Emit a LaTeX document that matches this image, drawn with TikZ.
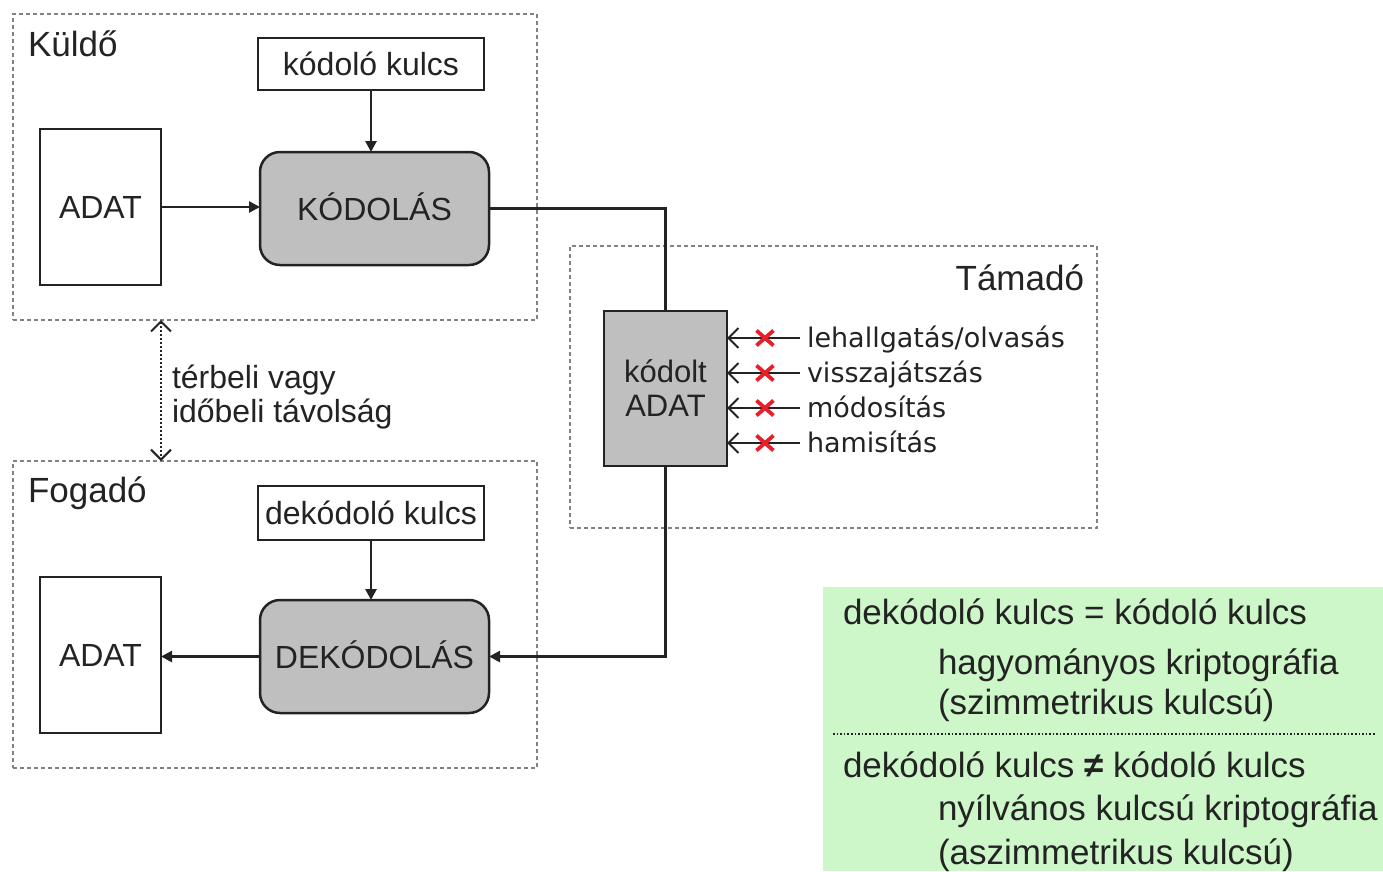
\documentclass[tikz,border=0pt]{standalone}
\usepackage{fontspec}
\setmainfont{Liberation Sans}
\newfontfamily\attfont{DejaVu Sans}
\usetikzlibrary{arrows.meta,shapes.misc}
\definecolor{boxgray}{RGB}{191,191,191}
\definecolor{linecol}{RGB}{35,35,35}
\definecolor{dashcol}{RGB}{130,130,130}
\definecolor{greenbg}{RGB}{205,246,201}
\definecolor{xred}{RGB}{232,30,40}
\begin{document}
\begin{tikzpicture}[x=1pt,y=-1pt,
  every node/.style={inner sep=0pt,outer sep=0pt,text=linecol},
  groupbox/.style={draw=dashcol,line width=1.6pt,dash pattern=on 4pt off 3pt},
  grouplabel/.style={font=\fontsize{35}{40}\selectfont,anchor=base west},
  plainbox/.style={draw=linecol,line width=2.2pt,fill=white,font=\fontsize{32}{36}\selectfont,text height=23pt,text depth=0pt},
  procbox/.style={draw=linecol,line width=2.5pt,fill=boxgray,rounded corners=20pt,font=\fontsize{32}{36}\selectfont,text height=23pt,text depth=0pt},
  graybox/.style={draw=linecol,line width=2.2pt,fill=boxgray,font=\fontsize{31}{36}\selectfont,align=center},
  conn/.style={draw=linecol,line width=2.6pt,-{Triangle[length=11pt,width=11pt]}},
  wire/.style={draw=linecol,line width=2.6pt},
  attack/.style={draw=linecol,line width=1.8pt,-{Straight Barb[length=10pt,width=20pt,line width=2pt]}},
  attlabel/.style={font=\attfont\fontsize{27}{30}\selectfont,anchor=west,text height=19pt,text depth=0pt},
  redx/.style={cross out,draw=xred,line width=3.8pt,minimum width=17pt,minimum height=15pt,fill=none},
  distarrow/.style={draw=linecol,line width=2pt,dotted,{Straight Barb[length=10pt,width=20pt,line width=2pt]}-{Straight Barb[length=10pt,width=20pt,line width=2pt]}},
  bodytext/.style={font=\fontsize{32}{36}\selectfont,anchor=base west,align=left},
  greentext/.style={font=\fontsize{35}{40}\selectfont,anchor=base west}
]
\useasboundingbox (0,0) rectangle (1383,871);

% Sender group
\node[groupbox,minimum width=524,minimum height=306] (kuldo) at (275,167) {};
\node[grouplabel] (kuldolbl) at (28,56) {Küldő};
\node[plainbox,minimum width=226,minimum height=52] (kkey) at (371,64) {kódoló kulcs};
\node[plainbox,minimum width=121,minimum height=156] (adat1) at (100.5,207) {ADAT};
\node[procbox,minimum width=229,minimum height=113] (kod) at (374.5,208.5) {KÓDOLÁS};
\draw[conn] (adat1.east) -- (kod.west |- adat1.east);
\draw[conn] (kkey.south) -- (kkey.south |- kod.north);

% Attacker group
\node[groupbox,minimum width=527,minimum height=282] (tamado) at (833.5,387) {};
\node[font=\fontsize{35}{40}\selectfont,anchor=base east] (tamadolbl) at (1084,290) {Támadó};
\node[graybox,minimum width=123,minimum height=155] (kodolt) at (665.5,388.5) {kódolt\\[-2pt]ADAT};
\node[attlabel] (a1) at (807,338) {lehallgatás/olvasás};
\node[attlabel] (a2) at (807,373) {visszajátszás};
\node[attlabel] (a3) at (807,408) {módosítás};
\node[attlabel] (a4) at (807,443) {hamisítás};
\foreach \a in {a1,a2,a3,a4}{
  \draw[attack] ([xshift=-7pt]\a.west) -- node[redx,pos=0.48]{} (kodolt.east |- \a.west);
}

% Receiver group
\node[groupbox,minimum width=524,minimum height=307] (fogado) at (275,614.5) {};
\node[grouplabel] (fogadolbl) at (28,502) {Fogadó};
\node[plainbox,minimum width=226,minimum height=54] (dkey) at (371,513) {dekódoló kulcs};
\node[plainbox,minimum width=121,minimum height=156] (adat2) at (100.5,655) {ADAT};
\node[procbox,minimum width=229,minimum height=113] (dek) at (374.5,656.5) {DEKÓDOLÁS};
\draw[conn] (dkey.south) -- (dkey.south |- dek.north);
\draw[conn] (dek.west) -- (adat2.east |- dek.west);

% channel
\draw[wire] (kod.east) -| (kodolt.north);
\draw[conn] (kodolt.south) |- (dek.east);

% distance
\draw[distarrow] (kuldo.south -| adat1.east) -- (fogado.north -| adat1.east);
\node[bodytext] (dist) at (172,422) {térbeli vagy\\[-2pt]időbeli távolság};

% legend
\node[fill=greenbg,minimum width=560,minimum height=284,anchor=north west] (green) at (823,587) {};
\node[greentext] (g1) at (843,624) {dekódoló kulcs = kódoló kulcs};
\node[greentext] (g2) at (938,674) {hagyományos kriptográfia};
\node[greentext] (g3) at (938,714) {(szimmetrikus kulcsú)};
\draw[draw=linecol,line width=1.6pt,dotted] (833,734) -- (1376,734);
\node[greentext] (g4) at (843,777) {dekódoló kulcs \textbf{≠} kódoló kulcs};
\node[greentext] (g5) at (938,820) {nyílvános kulcsú kriptográfia};
\node[greentext] (g6) at (938,864) {(aszimmetrikus kulcsú)};
\end{tikzpicture}
\end{document}
